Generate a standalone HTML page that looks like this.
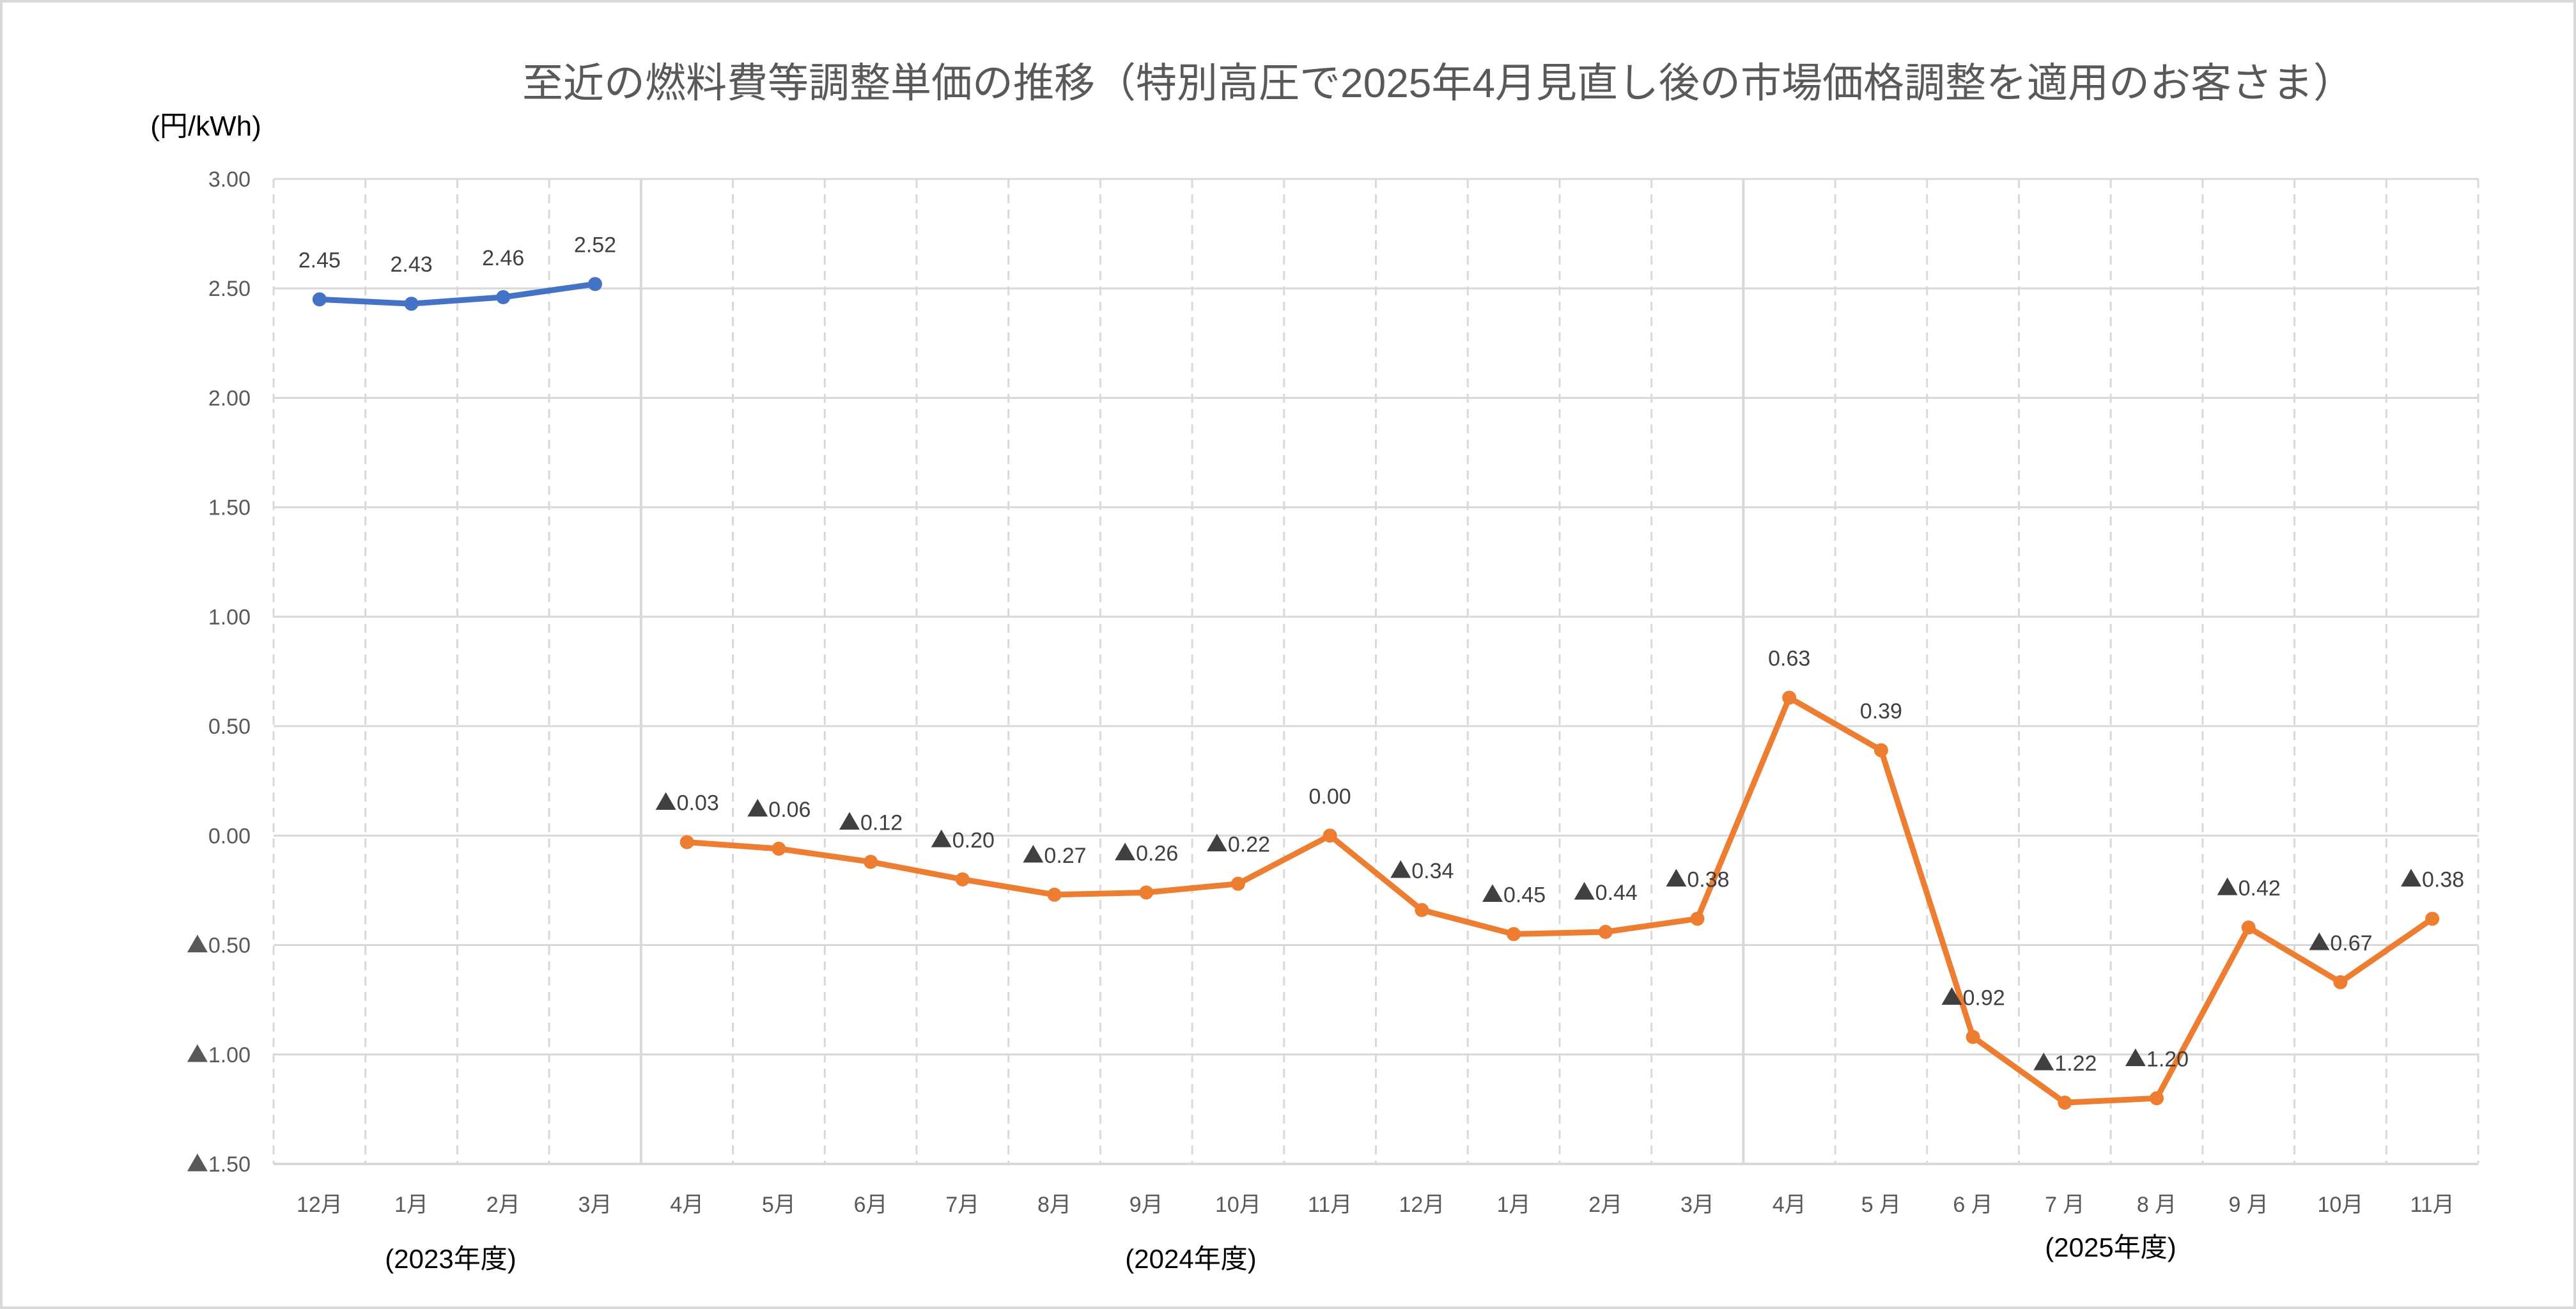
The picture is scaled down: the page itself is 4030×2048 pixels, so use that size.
<!DOCTYPE html>
<html><head><meta charset="utf-8">
<style>
html,body{margin:0;padding:0;background:#fff;}
svg{display:block;font-family:"Liberation Sans","Noto Sans CJK JP",sans-serif;}
.tri{font-family:"Noto Sans CJK JP",sans-serif;}
</style></head>
<body>
<svg id="chart" width="4030" height="2048" viewBox="0 0 4030 2048" xmlns="http://www.w3.org/2000/svg">
<rect x="2" y="2" width="4026" height="2044" fill="#fff" stroke="#d9d9d9" stroke-width="4"/>
<text x="2250" y="152" text-anchor="middle" font-size="64" fill="#595959">至近の燃料費等調整単価の推移（特別高圧で2025年4月見直し後の市場価格調整を適用のお客さま）</text>
<text x="322" y="212" text-anchor="middle" font-size="44" fill="#000">(円/kWh)</text>
<g id="grid"></g><g id="axes"></g><g id="series"></g><g id="labels"></g>
<text x="705" y="1984" text-anchor="middle" font-size="42" fill="#000">(2023年度)</text>
<text x="1863" y="1984" text-anchor="middle" font-size="42" fill="#000">(2024年度)</text>
<text x="3302" y="1966" text-anchor="middle" font-size="42" fill="#000">(2025年度)</text>
</svg>
<script>
const categories=["12月","1月","2月","3月","4月","5月","6月","7月","8月","9月","10月","11月","12月","1月","2月","3月","4月","5 月","6 月","7 月","8 月","9 月","10月","11月"];
const seriesBlue=[2.45,2.43,2.46,2.52];
const seriesOrange=[-0.03,-0.06,-0.12,-0.20,-0.27,-0.26,-0.22,0.00,-0.34,-0.45,-0.44,-0.38,0.63,0.39,-0.92,-1.22,-1.20,-0.42,-0.67,-0.38];
const yTicks=[3.0,2.5,2.0,1.5,1.0,0.5,0.0,-0.5,-1.0,-1.5];
const boundaries=[4,16];
const NS="http://www.w3.org/2000/svg";
const L=428,R=3877,T=280,B=1821,yMin=-1.5,yMax=3.0;
const cw=(R-L)/categories.length;
const xs=i=>L+cw*(i+0.5);
const ys=v=>T+(yMax-v)/(yMax-yMin)*(B-T);
function mk(tag,attrs,parent){const e=document.createElementNS(NS,tag);for(const k in attrs)e.setAttribute(k,attrs[k]);(typeof parent==="string"?document.getElementById(parent):parent).appendChild(e);return e;}
function fillVal(t,v){
  if(v<0){const s=mk("tspan",{class:"tri"},t);s.textContent="▲";}
  const n=mk("tspan",{},t);n.textContent=Math.abs(v).toFixed(2);
}
for(let i=0;i<=categories.length;i++){
  const solid=boundaries.includes(i);
  const g=mk("line",{x1:L+cw*i,x2:L+cw*i,y1:T,y2:B,stroke:"#d9d9d9","stroke-width":solid?4:3,"stroke-dasharray":solid?"none":"14 10"},"grid");
  
  
}
yTicks.forEach(v=>{
  const g=mk("line",{x1:L,x2:R,y1:ys(v),y2:ys(v),stroke:"#d9d9d9","stroke-width":v===yMin?4:3},"grid");
  
  
  const t=mk("text",{x:392,y:ys(v)+12,"text-anchor":"end","font-size":34,fill:"#595959"},"axes");
  fillVal(t,v);
  
  
});
categories.forEach((c,i)=>{
  const t=mk("text",{x:xs(i),y:1896,"text-anchor":"middle","font-size":34,fill:"#595959"},"axes");
  t.textContent=c;
  
  
});
function drawSeries(vals,offset,color,name){
  const pts=vals.map((v,i)=>xs(i+offset)+","+ys(v)).join(" ");
  const pl=mk("polyline",{points:pts,fill:"none",stroke:color,"stroke-width":9,"stroke-linejoin":"round"},"series");
  
  
  vals.forEach((v,i)=>{
    const c=mk("circle",{cx:xs(i+offset),cy:ys(v),r:11,fill:color},"series");
    
    
    const t=mk("text",{x:xs(i+offset),y:ys(v)-50,"text-anchor":"middle","font-size":34,fill:"#404040"},"labels");
    fillVal(t,v);
    
    
  });
}
drawSeries(seriesBlue,0,"#4472c4","fy2023-series");
drawSeries(seriesOrange,4,"#ed7d31","market-adjusted-series");
</script>
</body></html>
